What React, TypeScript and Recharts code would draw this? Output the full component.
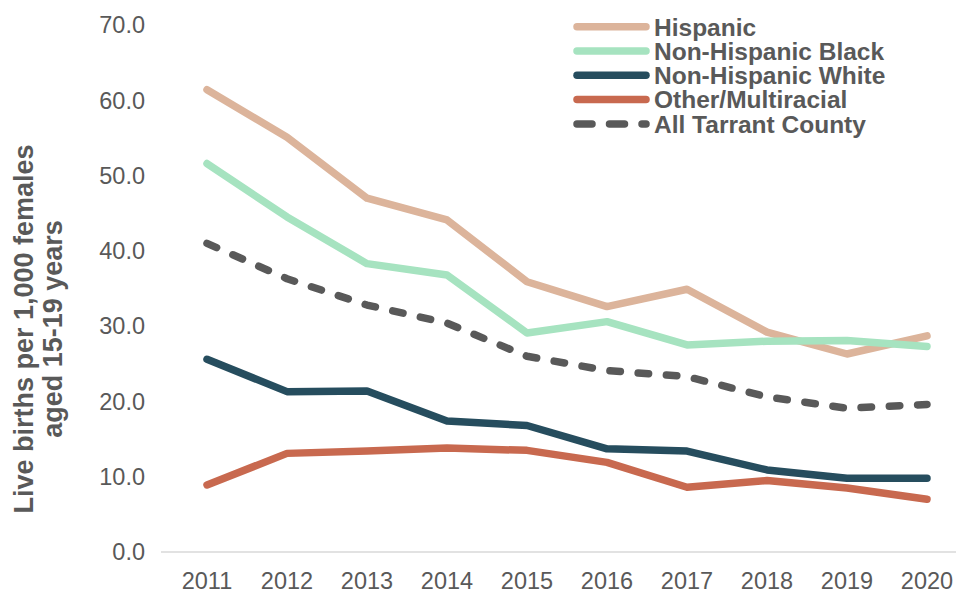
import React from 'react';
import { LineChart, Line, XAxis, YAxis } from 'recharts';

// Data
const years = ['2011', '2012', '2013', '2014', '2015', '2016', '2017', '2018', '2019', '2020'];
const hispanic = [61.4, 55.1, 47.0, 44.1, 35.9, 32.6, 34.9, 29.2, 26.3, 28.7];
const nhBlack = [51.6, 44.5, 38.3, 36.8, 29.1, 30.6, 27.5, 28.0, 28.1, 27.3];
const nhWhite = [25.6, 21.3, 21.4, 17.4, 16.8, 13.7, 13.4, 10.9, 9.8, 9.8];
const other = [8.9, 13.1, 13.4, 13.8, 13.5, 11.9, 8.6, 9.5, 8.5, 7.0];
const allTarrant = [41.0, 36.3, 32.8, 30.4, 26.0, 24.1, 23.3, 20.6, 19.1, 19.6];
const yTicks = [0, 10, 20, 30, 40, 50, 60, 70];

const data = years.map((year, i) => ({
  year,
  hispanic: hispanic[i],
  nhBlack: nhBlack[i],
  nhWhite: nhWhite[i],
  other: other[i],
  allTarrant: allTarrant[i],
}));

const TEXT = '#595959';
const FONT = '"Liberation Sans", Arial, sans-serif';

const SERIES = [
  { key: 'hispanic', name: 'Hispanic', color: '#dcb49b', dash: undefined },
  { key: 'nhBlack', name: 'Non-Hispanic Black', color: '#a6e3c0', dash: undefined },
  { key: 'nhWhite', name: 'Non-Hispanic White', color: '#264d5e', dash: undefined },
  { key: 'other', name: 'Other/Multiracial', color: '#c8694f', dash: undefined },
  { key: 'allTarrant', name: 'All Tarrant County', color: '#595959', dash: '10.5 17.8' },
];

const YTitle = () => (
  <g fill={TEXT} fontFamily={FONT} fontWeight="bold" fontSize={27}>
    <text x={33} y={329} textAnchor="middle" transform="rotate(-90, 33, 329)">
      Live births per 1,000 females
    </text>
    <text x={62} y={329} textAnchor="middle" transform="rotate(-90, 62, 329)">
      aged 15-19 years
    </text>
  </g>
);

// Legend drawn in the top-right corner
const ChartLegend = () => (
  <svg
    width={340}
    height={140}
    style={{ position: 'absolute', left: 560, top: 0, overflow: 'visible' }}
  >
    {SERIES.map((s, i) => {
      const y = 26.7 + i * 24.3;
      return (
        <g key={s.key}>
          <line
            x1={17}
            x2={86}
            y1={y}
            y2={y}
            stroke={s.color}
            strokeWidth={7.5}
            strokeLinecap="round"
            strokeDasharray={s.dash ? '15 17.5' : undefined}
          />
          <text
            x={94}
            y={y}
            dy="0.36em"
            fill={TEXT}
            fontFamily={FONT}
            fontWeight="bold"
            fontSize={24.5}
          >
            {s.name}
          </text>
        </g>
      );
    })}
  </svg>
);

export default function App() {
  return (
    <div style={{ position: 'absolute', left: 0, top: 0, width: 956, height: 593, background: '#fff' }}>
      <LineChart
        width={956}
        height={593}
        data={data}
        margin={{ top: 25, right: 0, bottom: 0, left: 0 }}
      >
        <XAxis
          dataKey="year"
          height={41}
          padding={{ left: 46, right: 29 }}
          axisLine={{ stroke: '#d9d9d9', strokeWidth: 1.5 }}
          tickLine={false}
          tickSize={0}
          tickMargin={20}
          tick={{ fill: TEXT, fontSize: 23.5, fontFamily: FONT }}
          interval={0}
        />
        <YAxis
          width={161}
          domain={[0, 70]}
          ticks={yTicks}
          tickFormatter={(v: number) => v.toFixed(1)}
          axisLine={false}
          tickLine={false}
          tickSize={0}
          tickMargin={16}
          tick={{ fill: TEXT, fontSize: 23.5, fontFamily: FONT }}
          label={() => <YTitle />}
        />
        {SERIES.map((s) => (
          <Line
            key={s.key}
            dataKey={s.key}
            name={s.name}
            type="linear"
            stroke={s.color}
            strokeWidth={7.5}
            strokeLinecap="round"
            strokeLinejoin="round"
            strokeDasharray={s.dash}
            dot={false}
            activeDot={false}
            isAnimationActive={false}
          />
        ))}
      </LineChart>
      <ChartLegend />
    </div>
  );
}
